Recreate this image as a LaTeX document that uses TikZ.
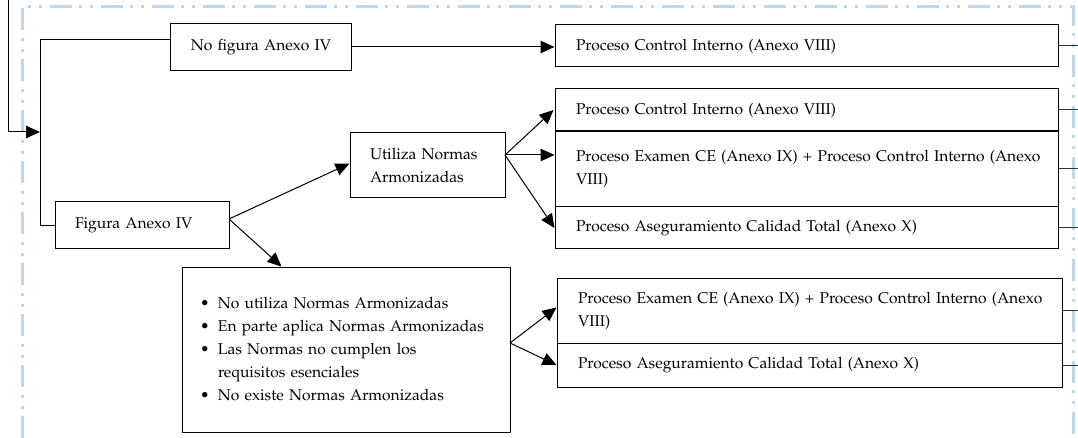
\documentclass[tikz,border=0pt]{standalone}
\usepackage[T1]{fontenc}
\usepackage{mathpazo}
\usetikzlibrary{arrows.meta,calc}
\definecolor{bord}{RGB}{189,215,238}
\begin{document}
\begin{tikzpicture}[x=1pt,y=-1pt,
  box/.style={draw, line width=1pt, inner xsep=21pt, inner ysep=0pt, align=left,
    font=\fontsize{15.6}{23}\selectfont, anchor=center},
  arr/.style={-{Triangle[length=14pt,width=12.5pt]}, line width=1pt},
  ln/.style={line width=1pt},
  stub/.style={line width=1pt, draw=black!80}]
\useasboundingbox (0,0) rectangle (1078,438);
% blue dash-dot border
\draw[bord, line width=3pt, dash pattern=on 22pt off 7pt on 3pt off 8pt on 3pt off 8pt]
  (22,438) -- (22,7) -- (1073,7) -- (1073,438);
% boxes
\node[box, text width=141pt, minimum height=47pt, inner xsep=20pt, align=center] (nofig) at (261,47) {No figura Anexo IV};
\node[box, text width=134pt, minimum height=47pt, inner xsep=20pt] (fig) at (142,225.5) {Figura Anexo IV};
\node[box, text width=115pt, minimum height=65pt, inner xsep=20pt] (util) at (427.5,165.5) {Utiliza Normas\\Armonizadas};
\node[box, text width=292pt, minimum height=165pt, inner xsep=18pt] (list) at (346,349.5)
  {\makebox[18pt][l]{\textbullet}No utiliza Normas Armonizadas\\
   \makebox[18pt][l]{\textbullet}En parte aplica Normas Armonizadas\\
   \makebox[18pt][l]{\textbullet}Las Normas no cumplen los\\
   \hspace*{18pt}requisitos esenciales\\
   \makebox[18pt][l]{\textbullet}No existe Normas Armonizadas};
\node[box, text width=461pt, minimum height=42pt] (b1) at (806.5,46) {Proceso Control Interno (Anexo VIII)};
\node[box, text width=461pt, minimum height=43pt] (b2) at (806.5,110) {Proceso Control Interno (Anexo VIII)};
\node[box, text width=461pt, minimum height=76pt] (b3) at (806.5,169) {\mbox{Proceso Examen CE (Anexo IX) + Proceso Control Interno (Anexo}\\VIII)};
\node[box, text width=461pt, minimum height=42pt] (b4) at (806.5,228) {Proceso Aseguramiento Calidad Total (Anexo X)};
\node[box, text width=463pt, minimum height=65pt] (b5) at (809.5,310.5) {\mbox{Proceso Examen CE (Anexo IX) + Proceso Control Interno (Anexo}\\VIII)};
\node[box, text width=463pt, minimum height=44pt] (b6) at (809.5,365) {Proceso Aseguramiento Calidad Total (Anexo X)};
% left connectors
\coordinate (top) at (8,0);
\coordinate (j) at (40,132);
\draw[arr] (top) |- (j);
\coordinate (n1) at (40,40);
\draw[ln] (nofig.west |- n1) -- (n1) |- (fig.west);
\draw[arr] (nofig.east) -- (nofig.east -| b1.west);
% from Figura
\coordinate (fo) at (229,219);
\draw[arr] (fo) -- ($(util.west)+(0,-2)$);
\draw[arr] (fo) -- ($(list.north west)+(100,0)$);
% from Utiliza
\coordinate (uo) at (505,155);
\draw[arr] (uo) -- ($(b2.west)+(-1,0)$);
\draw[arr] (uo) -- (uo -| b3.west);
\draw[arr] (uo) -- (b4.west);
% from list
\coordinate (lo) at (510,343);
\draw[arr] (lo) -- ($(b5.west)+(0,-3)$);
\draw[arr] (lo) -- (b6.west);
% right stubs
\foreach \b in {b1,b2,b3,b4,b5,b6} \draw[stub] (\b.east) -- ++(22,0);
\end{tikzpicture}
\end{document}
